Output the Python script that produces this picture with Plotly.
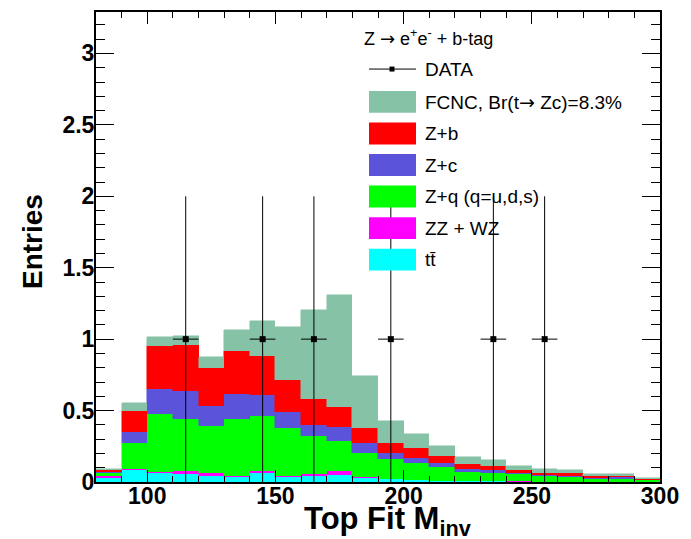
import plotly.graph_objects as go

# ---------------- data ----------------
bin_centers = [85, 95, 105, 115, 125, 135, 145, 155, 165, 175, 185,
               195, 205, 215, 225, 235, 245, 255, 265, 275, 285, 295]
ttbar = [0.030, 0.081, 0.063, 0.058, 0.040, 0.037, 0.060, 0.037, 0.040, 0.047, 0.030,
         0.019, 0.012, 0.007, 0.005, 0.004, 0.003, 0.003, 0.002, 0.002, 0.002, 0.001]
zz_wz = [0.010, 0.012, 0.007, 0.016, 0.020, 0.007, 0.014, 0.005, 0.013, 0.032, 0.005,
         0.004, 0.002, 0.002, 0.001, 0.001, 0.001, 0.000, 0.001, 0.000, 0.000, 0.000]
z_q = [0.023, 0.179, 0.404, 0.368, 0.331, 0.396, 0.391, 0.335, 0.268, 0.205, 0.165,
       0.141, 0.119, 0.093, 0.062, 0.058, 0.049, 0.037, 0.034, 0.019, 0.021, 0.011]
z_c = [0.007, 0.081, 0.177, 0.193, 0.144, 0.179, 0.147, 0.116, 0.081, 0.100, 0.070,
       0.037, 0.034, 0.028, 0.023, 0.018, 0.007, 0.007, 0.007, 0.007, 0.010, 0.002]
z_b = [0.016, 0.147, 0.298, 0.323, 0.263, 0.300, 0.272, 0.221, 0.182, 0.142, 0.107,
       0.073, 0.070, 0.049, 0.035, 0.028, 0.021, 0.016, 0.016, 0.012, 0.011, 0.005]
fcnc = [0.002, 0.053, 0.063, 0.065, 0.079, 0.146, 0.244, 0.372, 0.623, 0.781, 0.367,
        0.156, 0.096, 0.074, 0.048, 0.042, 0.028, 0.025, 0.021, 0.013, 0.014, 0.011]

data_x = [115, 145, 165, 195, 235, 255]
data_y = [1, 1, 1, 1, 1, 1]
data_err = [1, 1, 1, 1, 1, 1]

y_tickvals = [0, 0.5, 1, 1.5, 2, 2.5, 3]
y_ticktext = ["0", "0.5", "1", "1.5", "2", "2.5", "3"]
x_tickvals = [100, 150, 200, 250, 300]
x_ticktext = ["100", "150", "200", "250", "300"]

ARROW = '<span style="font-family:DejaVu Sans">\u2192</span>'
legend_header = "Z " + ARROW + " e<sup>+</sup>e<sup>-</sup> + b-tag"
legend_labels = ["FCNC, Br(t" + ARROW + " Zc)=8.3%", "Z+b", "Z+c", "Z+q (q=u,d,s)", "ZZ + WZ", "tt\u0304"]

# ---------------- styling ----------------
C_FCNC = "#86C2A5"
C_ZB = "#FF0000"
C_ZC = "#5B53D9"
C_ZQ = "#00FF00"
C_ZZ = "#FF00FF"
C_TT = "#00FFFF"
FONT = "Liberation Sans"

W, H = 691, 539
L, R, T, B = 96, 660, 10, 482


def fx(px):
    return (px - L) / (R - L)


def fy(py):
    return (B - py) / (B - T)


fig = go.Figure()
stack = [(ttbar, C_TT, "tt"), (zz_wz, C_ZZ, "ZZ+WZ"), (z_q, C_ZQ, "Z+q"),
         (z_c, C_ZC, "Z+c"), (z_b, C_ZB, "Z+b"), (fcnc, C_FCNC, "FCNC")]
for vals, col, name in stack:
    fig.add_trace(go.Bar(x=bin_centers, y=vals, width=10, name=name,
                         marker=dict(color=col, line=dict(color=col, width=0.5)),
                         showlegend=False, hoverinfo="skip"))

fig.add_trace(go.Scatter(
    x=data_x, y=data_y, mode="markers", showlegend=False,
    marker=dict(symbol="square", size=6, color="black"),
    error_y=dict(type="data", array=data_err, color="black", thickness=1, width=0),
    error_x=dict(type="constant", value=5, color="black", thickness=1, width=0),
))

fig.update_layout(
    width=W, height=H,
    margin=dict(l=L, r=W - R, t=T, b=H - B),
    paper_bgcolor="white", plot_bgcolor="white",
    barmode="stack", bargap=0,
    font=dict(family=FONT, color="black"),
)
fig.update_xaxes(
    range=[80, 300], tickvals=x_tickvals, ticktext=x_ticktext,
    ticks="inside", ticklen=12, tickwidth=1, tickcolor="black",
    minor=dict(ticks="inside", ticklen=6, dtick=10, tick0=80, tickcolor="black", tickwidth=1),
    showline=True, linecolor="black", linewidth=2, mirror="allticks",
    showgrid=False, zeroline=False,
    tickfont=dict(family=FONT, size=23, weight="bold", color="black"),
    ticklabelstandoff=-8,
)
fig.update_yaxes(
    range=[0, 3.29], tickvals=y_tickvals, ticktext=y_ticktext,
    ticks="inside", ticklen=18, tickwidth=1, tickcolor="black",
    minor=dict(ticks="inside", ticklen=9, dtick=0.1, tick0=0, tickcolor="black", tickwidth=1),
    showline=True, linecolor="black", linewidth=2, mirror="allticks",
    showgrid=False, zeroline=False,
    tickfont=dict(family=FONT, size=23, weight="bold", color="black"),
    ticklabelstandoff=-5,
)

ann = []
# axis titles
ann.append(dict(xref="paper", yref="paper", x=fx(302), y=fy(521), xanchor="left", yanchor="middle",
                text="Top Fit M<sub>inv</sub>", showarrow=False,
                font=dict(family=FONT, size=31, weight="bold", color="black")))
ann.append(dict(xref="paper", yref="paper", x=fx(32), y=fy(241), xanchor="center", yanchor="middle",
                text="Entries", textangle=-90, showarrow=False,
                font=dict(family=FONT, size=28, weight="bold", color="black")))

# legend
ann.append(dict(xref="paper", yref="paper", x=fx(362), y=fy(36), xanchor="left", yanchor="middle",
                text=legend_header, showarrow=False,
                font=dict(family=FONT, size=18, color="black")))
shapes = []
row_y = [100.3, 132.0, 163.7, 195.3, 227.0, 258.7]
cols = [C_FCNC, C_ZB, C_ZC, C_ZQ, C_ZZ, C_TT]
for ly, col, lab in zip(row_y, cols, legend_labels):
    shapes.append(dict(type="rect", xref="paper", yref="paper",
                       x0=fx(369), x1=fx(416), y0=fy(ly + 11), y1=fy(ly - 11),
                       fillcolor=col, line=dict(width=0)))
    ann.append(dict(xref="paper", yref="paper", x=fx(423), y=fy(ly), xanchor="left", yanchor="middle",
                    text=lab, showarrow=False, font=dict(family=FONT, size=19, color="black")))
# DATA entry
shapes.append(dict(type="line", xref="paper", yref="paper", x0=fx(369), x1=fx(416),
                   y0=fy(67.3), y1=fy(67.3), line=dict(color="black", width=1)))
shapes.append(dict(type="rect", xref="paper", yref="paper", x0=fx(389.5), x1=fx(394.5),
                   y0=fy(69.8), y1=fy(64.8), fillcolor="black", line=dict(width=0)))
ann.append(dict(xref="paper", yref="paper", x=fx(423), y=fy(67.3), xanchor="left", yanchor="middle",
                text="DATA", showarrow=False, font=dict(family=FONT, size=19, color="black")))

fig.update_layout(annotations=ann, shapes=shapes)
fig.write_html("out.html")
